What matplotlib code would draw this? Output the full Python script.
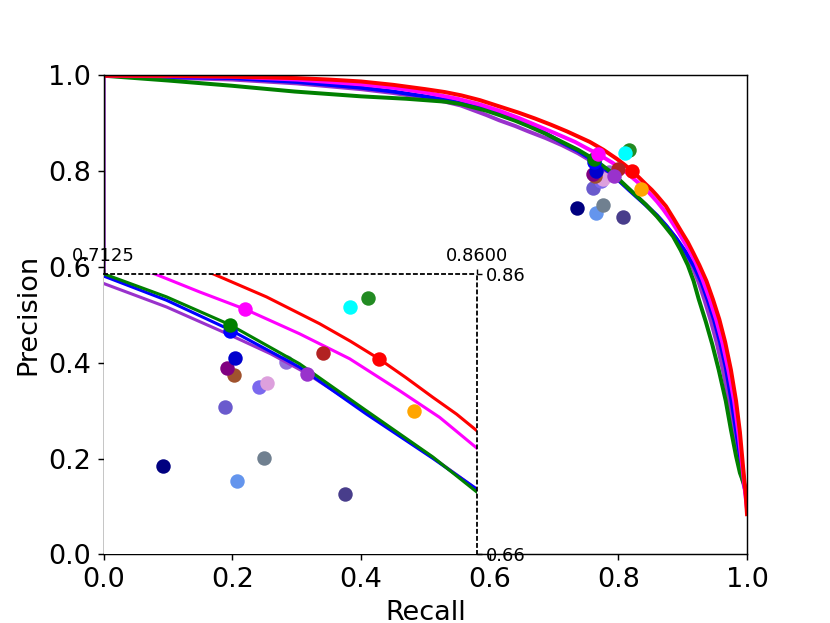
import matplotlib
matplotlib.use("Agg")
import matplotlib.pyplot as plt

# PR curves (recall, precision)
red_recall = [0.0, 0.1, 0.2, 0.3, 0.35, 0.4, 0.45, 0.5, 0.53, 0.556, 0.585, 0.615, 0.645, 0.67,
              0.695, 0.72, 0.7557, 0.7768, 0.7978, 0.81, 0.8215, 0.832, 0.8426, 0.852, 0.86,
              0.874, 0.886, 0.898, 0.908, 0.916, 0.926, 0.937, 0.947, 0.957, 0.966, 0.975,
              0.983, 0.989, 0.994, 0.998, 1.0]
red_precision = [0.998, 0.998, 0.996, 0.993, 0.990, 0.986, 0.979, 0.970, 0.964, 0.957, 0.947, 0.934,
                 0.921, 0.909, 0.896, 0.882, 0.86, 0.8436, 0.8245, 0.812, 0.7992, 0.786, 0.772,
                 0.760, 0.7482, 0.726, 0.700, 0.673, 0.651, 0.630, 0.603, 0.570, 0.532, 0.490,
                 0.443, 0.385, 0.320, 0.255, 0.181, 0.125, 0.084]

magenta_recall = [0.0, 0.2, 0.3, 0.4, 0.45, 0.5, 0.55, 0.585, 0.615, 0.645, 0.67, 0.70, 0.7326,
                  0.7504, 0.7685, 0.7899, 0.8097, 0.8294, 0.8453, 0.86, 0.87, 0.88, 0.89, 0.90,
                  0.91, 0.92, 0.931, 0.942, 0.952, 0.962, 0.971, 0.98, 0.987, 0.993, 0.997, 1.0]
magenta_precision = [0.998, 0.996, 0.990, 0.980, 0.973, 0.963, 0.950, 0.938, 0.925, 0.910, 0.896,
                     0.879, 0.86, 0.8471, 0.8347, 0.8173, 0.7995, 0.7768, 0.7577, 0.7358, 0.719,
                     0.700, 0.679, 0.657, 0.634, 0.609, 0.573, 0.532, 0.490, 0.440, 0.385, 0.320,
                     0.250, 0.180, 0.130, 0.095]

blue_recall = [0.0, 0.2, 0.3, 0.4, 0.45, 0.504, 0.535, 0.56, 0.59, 0.615, 0.64, 0.66, 0.687,
               0.7125, 0.7373, 0.7623, 0.7899, 0.8163, 0.8426, 0.86, 0.875, 0.89, 0.905, 0.918,
               0.929, 0.939, 0.949, 0.958, 0.967, 0.976, 0.984, 0.992, 0.997, 1.0]
blue_precision = [0.998, 0.993, 0.985, 0.973, 0.965, 0.954, 0.947, 0.939, 0.929, 0.918, 0.906,
                  0.895, 0.878, 0.8584, 0.8412, 0.8202, 0.7935, 0.7601, 0.7285, 0.7065, 0.684,
                  0.659, 0.630, 0.600, 0.568, 0.530, 0.488, 0.443, 0.390, 0.320, 0.250, 0.180,
                  0.135, 0.11]

green_recall = [0.0, 0.1, 0.2, 0.297, 0.4, 0.47, 0.53, 0.555, 0.575, 0.595, 0.615, 0.64, 0.66,
                0.687, 0.7125, 0.7373, 0.7623, 0.7899, 0.8163, 0.8426, 0.86, 0.872, 0.885,
                0.897, 0.908, 0.917, 0.925, 0.936, 0.946, 0.956, 0.967, 0.975, 0.983, 0.989,
                0.995, 1.0]
green_precision = [0.998, 0.988, 0.977, 0.965, 0.955, 0.950, 0.944, 0.939, 0.932, 0.925, 0.916,
                   0.904, 0.893, 0.877, 0.86, 0.8436, 0.8238, 0.7959, 0.7625, 0.7295, 0.7045,
                   0.685, 0.663, 0.634, 0.603, 0.570, 0.532, 0.485, 0.438, 0.385, 0.320, 0.260,
                   0.205, 0.170, 0.148, 0.132]

purple_recall = [0.0, 0.0, 0.2, 0.3, 0.4, 0.45, 0.5, 0.53, 0.555, 0.575, 0.595, 0.615, 0.64, 0.66,
                 0.687, 0.7125, 0.7373, 0.7623, 0.7785, 0.7928, 0.8163, 0.8426, 0.86, 0.874,
                 0.888, 0.902, 0.915, 0.925, 0.934, 0.944, 0.953, 0.962, 0.972, 0.98, 0.987,
                 0.993, 1.0]
purple_precision = [0.0, 0.998, 0.990, 0.982, 0.970, 0.962, 0.952, 0.944, 0.936, 0.926, 0.916,
                    0.905, 0.893, 0.882, 0.868, 0.8531, 0.8364, 0.8165, 0.803, 0.789, 0.7615,
                    0.729, 0.7065, 0.686, 0.662, 0.632, 0.600, 0.567, 0.530, 0.486, 0.441, 0.388,
                    0.320, 0.255, 0.195, 0.155, 0.12]

curves = [
    (purple_recall, purple_precision, "darkorchid"),
    (blue_recall, blue_precision, "blue"),
    (green_recall, green_precision, "green"),
    (magenta_recall, magenta_precision, "magenta"),
    (red_recall, red_precision, "red"),
]

# single operating points of other methods
under_colors = ["mediumpurple"]
under_recall = [0.7847]
under_precision = [0.7971]

dot_colors = ["navy", "cornflowerblue", "slategray", "darkslateblue", "slateblue",
              "mediumslateblue", "plum", "sienna", "purple", "mediumblue", "firebrick",
              "darkorchid", "orange", "red", "forestgreen", "cyan", "blue", "green", "magenta"]
dot_recall = [0.7361, 0.7653, 0.7758, 0.8077, 0.7603,
              0.7737, 0.7769, 0.7641, 0.7611, 0.7645, 0.7993,
              0.7928, 0.835, 0.8215, 0.8168, 0.8097, 0.7625, 0.7623, 0.7685]
dot_precision = [0.7229, 0.7124, 0.7289, 0.7034, 0.7649,
                 0.7792, 0.7823, 0.7880, 0.7928, 0.8002, 0.8035,
                 0.7887, 0.7625, 0.7992, 0.8426, 0.8362, 0.819, 0.8238, 0.8347]

plt.rcParams['font.size'] = 15

fig, ax = plt.subplots(figsize=(830 / 130, 623 / 130), dpi=130)


def draw(a, lw, ms):
    for c, r, p in zip(under_colors, under_recall, under_precision):
        a.plot(r, p, "o", color=c, markersize=ms)
    for r, p, c in curves:
        a.plot(r, p, color=c, linewidth=lw)
    for c, r, p in zip(dot_colors, dot_recall, dot_precision):
        a.plot(r, p, "o", color=c, markersize=ms)


draw(ax, 2.2, 7)
ax.set_xlim(0, 1)
ax.set_ylim(0, 1)
ax.set_xlabel("Recall")
ax.set_ylabel("Precision")

# zoomed inset in the lower-left corner
axins = ax.inset_axes([0, 0, 0.58, 0.585])
draw(axins, 1.7, 7)
axins.set_xlim(0.7125, 0.86)
axins.set_ylim(0.66, 0.86)
axins.set_facecolor("white")
axins.spines["left"].set_visible(False)
axins.spines["bottom"].set_visible(False)
for s in ["top", "right"]:
    axins.spines[s].set_linestyle((0, (1.7, 2.2)))
    axins.spines[s].set_linewidth(1.0)
axins.xaxis.tick_top()
axins.yaxis.tick_right()
axins.set_xticks([0.7125, 0.86])
axins.set_xticklabels(["0.7125", "0.8600"], fontsize=10)
axins.set_yticks([0.66, 0.86])
axins.set_yticklabels(["0.66", "0.86"], fontsize=10)
axins.tick_params(length=3, pad=2)

fig.savefig("out.png", dpi=130)
